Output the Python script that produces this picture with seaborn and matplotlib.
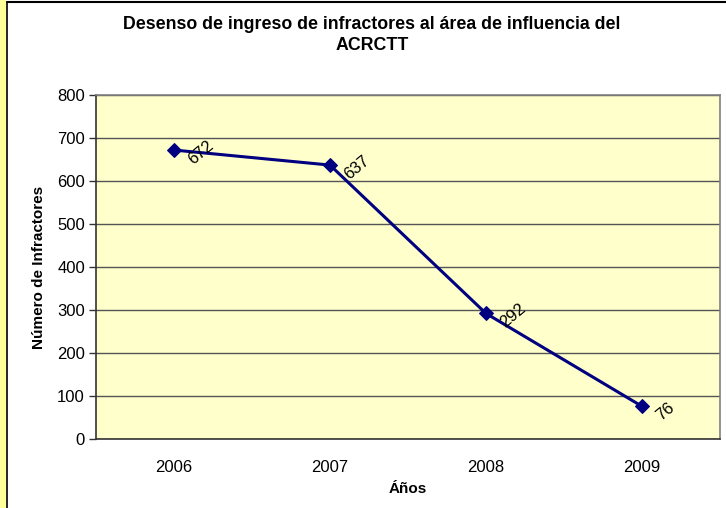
import matplotlib
matplotlib.use('Agg')
import matplotlib.pyplot as plt
import seaborn as sns
import pandas as pd
from matplotlib.patches import Rectangle
from matplotlib.lines import Line2D

# datos
anios = ['2006', '2007', '2008', '2009']
infractores = [672, 637, 292, 76]
y_ticks = [0, 100, 200, 300, 400, 500, 600, 700, 800]

df = pd.DataFrame({'anio': anios, 'infractores': infractores})
df['pos'] = range(len(df))

sns.set_theme(style='white')
plt.rcParams['font.family'] = ['Liberation Sans', 'DejaVu Sans']
plt.rcParams['text.color'] = 'black'
plt.rcParams['axes.labelcolor'] = 'black'
plt.rcParams['xtick.color'] = 'black'
plt.rcParams['ytick.color'] = 'black'

fig = plt.figure(figsize=(7.26, 5.08), dpi=100)
ax = fig.add_axes([96 / 726, 1 - 439 / 508, 624 / 726, 344 / 508])

# franja amarilla y borde del marco
fig.patches.append(Rectangle((0, 0), 6 / 726, 1, transform=fig.transFigure,
                             facecolor='#FFFF99', edgecolor='none', zorder=0))
fig.lines.append(Line2D([7 / 726, 7 / 726], [0, 1 - 2 / 508], transform=fig.transFigure,
                        color='black', lw=1.2))
fig.lines.append(Line2D([7 / 726, 1], [1 - 2 / 508, 1 - 2 / 508], transform=fig.transFigure,
                        color='black', lw=1.5))

ax.set_facecolor('#FFFFCC')
sns.lineplot(data=df, x='pos', y='infractores', ax=ax, color='#000080', lw=2.2,
             marker='D', markersize=7, markeredgecolor='#000080')

for x, y in zip(df['pos'], df['infractores']):
    ax.annotate(str(y), (x, y), xytext=(12, -8), textcoords='offset points',
                rotation=40, rotation_mode='anchor', ha='left', va='center',
                fontsize=12, color='black')

ax.set_xlim(-0.5, 3.5)
ax.set_ylim(0, 800)
ax.set_yticks(y_ticks)
ax.yaxis.grid(True, color='#555555', lw=1)
ax.set_axisbelow(True)

ax.set_xticks(df['pos'])
ax.set_xticklabels(anios)
ax.set_xticks([-0.5, 0.5, 1.5, 2.5, 3.5], minor=True)
ax.tick_params(axis='x', which='major', length=0, pad=15, labelsize=12)
ax.tick_params(axis='x', which='minor', length=5, width=1, color='#333333', direction='out')
ax.tick_params(axis='y', length=5, width=1, color='#333333', direction='out', left=True,
               labelsize=12, pad=3)

for s in ['top', 'right']:
    ax.spines[s].set_color('#808080')
    ax.spines[s].set_linewidth(1.2)
for s in ['left', 'bottom']:
    ax.spines[s].set_color('#333333')
    ax.spines[s].set_linewidth(1.2)

ax.set_xlabel('Áños', fontsize=11, fontweight='bold', labelpad=5)
ax.set_ylabel('Número de Infractores', fontsize=11, fontweight='bold', labelpad=8)
fig.text(372 / 726, 1 - 35 / 508, 'Desenso de ingreso de infractores al área de influencia del\nACRCTT',
         ha='center', va='center', fontsize=12.8, fontweight='bold', linespacing=1.35)

fig.savefig('out.png', dpi=100, facecolor='white')
